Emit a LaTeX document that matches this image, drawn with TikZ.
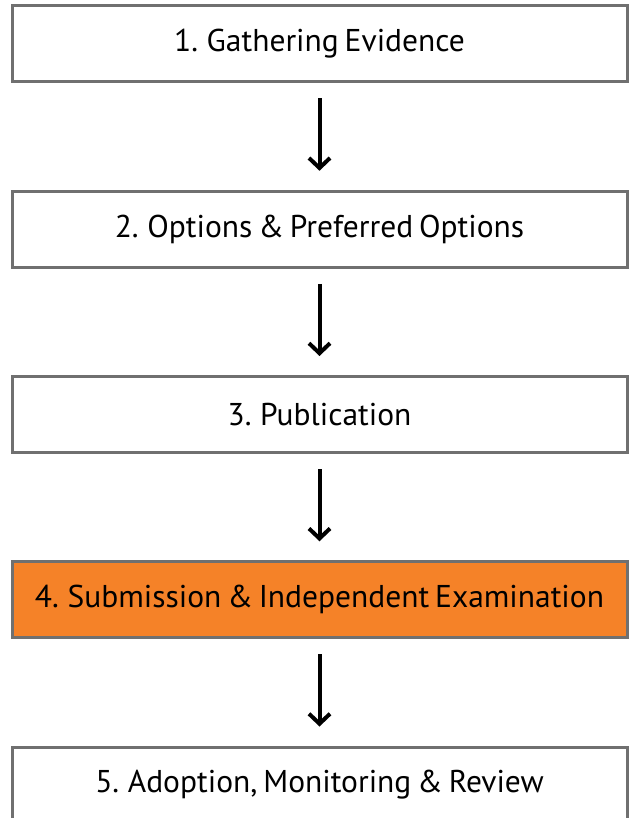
\documentclass[tikz,border=0pt]{standalone}
\usepackage{fontspec}
\setmainfont[WordSpace=0.7]{PT Sans}
\usepackage{tikz}
\usetikzlibrary{arrows.meta}
\definecolor{boxgray}{RGB}{112,112,112}
\definecolor{highlight}{RGB}{245,130,40}
\tikzstyle{stage} = [rectangle, minimum width=615pt, minimum height=76pt, text centered, draw=boxgray, line width=3pt, fill=white, font=\fontsize{31.5pt}{36pt}\selectfont]
\tikzstyle{current} = [stage, fill=highlight]
\tikzstyle{arrow} = [line width=4pt, -{Straight Barb[length=10pt,width=21pt]}, shorten <=15pt, shorten >=19pt]
\begin{document}
\begin{tikzpicture}
			[node distance=185.25pt]

			\clip (0,0) rectangle (632pt,-818pt);
			\useasboundingbox (0,0) rectangle (632pt,-818pt);

			\node (gather) [stage] at (319.5pt,-44pt) {1. Gathering Evidence};
			\node (options) [stage, below of = gather] {2. Options \& Preferred Options};
			\node (publish) [stage, below of = options] {3. Publication};
			\node (submit) [current, below of = publish] {4. Submission \& Independent Examination};
			\node (adopt) [stage, below of = submit] {5. Adoption, Monitoring \& Review};

			\draw [arrow] (gather) -- (options);
			\draw [arrow] (options) -- (publish);
			\draw [arrow] (publish) -- (submit);
			\draw [arrow] (submit) -- (adopt);

			\end{tikzpicture}
\end{document}
